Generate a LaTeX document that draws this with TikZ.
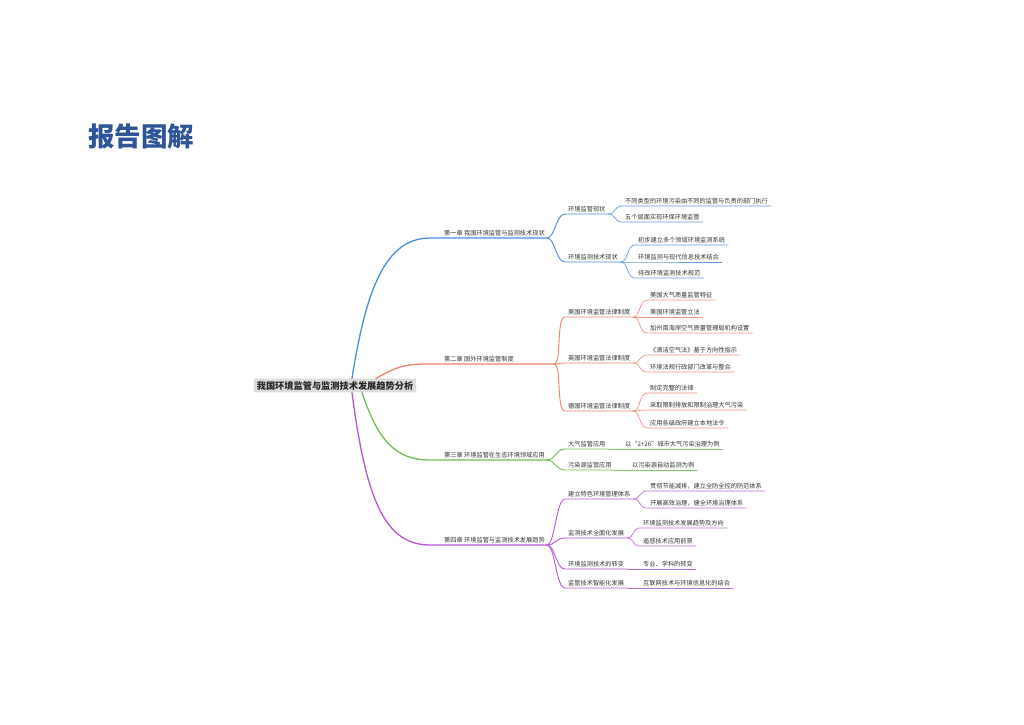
\documentclass[tikz,border=0pt]{standalone}
\usepackage{fontspec}
\setmainfont{Noto Sans CJK SC}
\usetikzlibrary{calc}
\definecolor{cblue}{HTML}{4A8FE0}
\definecolor{csalm}{HTML}{EC8270}
\definecolor{cgreen}{HTML}{6CC04F}
\definecolor{cpurp}{HTML}{B657D4}
\definecolor{ctitle}{HTML}{2E5597}
\definecolor{croot}{HTML}{DCDCDC}
\begin{document}
\begin{tikzpicture}[x=1pt,y=-1pt,
  lbl/.style={anchor=south west,inner xsep=3pt,inner ysep=1.6pt,font=\fontsize{6.2}{7}\selectfont,text=black!80},
  chap/.style={lbl,inner xsep=2pt},
  l1/.style={line width=1.3pt,line cap=round},
  l2/.style={line width=0.9pt,line cap=round},
  l3/.style={line width=0.7pt,line cap=round}]
\useasboundingbox[fill=white] (0,0) rectangle (1024,724);

\node[anchor=west,inner sep=0pt,font=\fontsize{26.5}{30}\selectfont\bfseries,text=ctitle] (title) at (88,136) {报告图解};

\node[fill=croot,rounded corners=1pt,inner xsep=3pt,inner ysep=2.5pt,font=\fontsize{9.2}{10}\selectfont\bfseries,text=black!85] (root) at (335,385.5) {我国环境监管与监测技术发展趋势分析};
\coordinate (rb) at ($(root.north)+(17,0)$);
\coordinate (rs) at ($(root.north)+(41,0)$);
\coordinate (rg) at ($(root.south)+(27,0)$);
\coordinate (rp) at ($(root.south)+(17,0)$);

% chapters
\node[chap] (ch1) at (442,238) {第一章 我国环境监管与监测技术现状};
\node[chap] (ch2) at (442,364) {第二章 国外环境监管制度};
\node[chap] (ch3) at (442,460) {第三章 环境监管在生态环境领域应用};
\node[chap] (ch4) at (442,545) {第四章 环境监管与监测技术发展趋势};
\coordinate (ch1e) at (ch1.south east);
\coordinate (ch2e) at ($(ch2.south west)+(112,0)$);
\coordinate (ch3e) at (ch3.south east);
\coordinate (ch4e) at (ch4.south east);

% chapter 1
\node[lbl] (a1) at (565,214) {环境监管现状};
\node[lbl] (a11) at (622,206) {不同类型的环境污染由不同的监管与负责的部门执行};
\node[lbl] (a12) at (622,222) {五个层面实现环保环境监管};
\node[lbl] (a2) at (565,262) {环境监测技术现状};
\node[lbl] (a21) at (635,245) {初步建立多个领域环境监测系统};
\node[lbl] (a22) at (635,262) {环境监测与现代信息技术结合};
\node[lbl] (a23) at (635,278) {待改环境监测技术规范};

% chapter 2
\node[lbl] (b1) at (565,317) {美国环境监管法律制度};
\node[lbl] (b11) at (647,300) {美国大气质量监管特征};
\node[lbl] (b12) at (647,317) {美国环境监管立法};
\node[lbl] (b13) at (647,333) {加州南海岸空气质量管理局机构设置};
\node[lbl] (b2) at (565,363) {英国环境监管法律制度};
\node[lbl] (b21) at (647,355) {《清洁空气法》基于方向性指示};
\node[lbl] (b22) at (647,372) {环境法规行政部门改革与整合};
\node[lbl] (b3) at (565,411) {德国环境监管法律制度};
\node[lbl] (b31) at (647,393) {制定完整的法律};
\node[lbl] (b32) at (647,410) {采取限制排放和限制治理大气污染};
\node[lbl] (b33) at (647,428) {应用各级政府建立本地法令};

% chapter 3
\node[lbl] (c1) at (565,449) {大气监管应用};
\node[lbl] (c11) at (622,449) {以“2+26”城市大气污染治理为例};
\node[lbl] (c2) at (565,470) {污染源监管应用};
\node[lbl] (c21) at (629,470) {以污染源自动监测为例};

% chapter 4
\node[lbl] (d1) at (565,499) {建立特色环境管理体系};
\node[lbl] (d11) at (647,491) {贯彻节能减排，建立全防全控的防范体系};
\node[lbl] (d12) at (647,508) {开展高效治理，健全环境治理体系};
\node[lbl] (d2) at (565,538) {监测技术全面化发展};
\node[lbl] (d21) at (640,528) {环境监测技术发展趋势及方向};
\node[lbl] (d22) at (640,546) {遥感技术应用前景};
\node[lbl] (d3) at (565,569) {环境监测技术的转变};
\node[lbl] (d31) at (640,569) {专业、学科的转变};
\node[lbl] (d4) at (565,588) {监管技术智能化发展};
\node[lbl] (d41) at (640,588) {互联网技术与环境信息化的结合};

% root to chapters
\draw[l1,cblue] (rb) .. controls (366,290) and (385,238) .. ($(ch1.south west)+(-12,0)$) -- (ch1e);
\draw[l1,csalm] (rs) .. controls (398,366) and (405,364) .. ($(ch2.south west)+(-12,0)$) -- (ch2e);
\draw[l1,cgreen] (rg) .. controls (378,440) and (395,460) .. ($(ch3.south west)+(-12,0)$) -- (ch3e);
\draw[l1,cpurp] (rp) .. controls (366,500) and (385,545) .. ($(ch4.south west)+(-12,0)$) -- (ch4e);

% chapter to level 2 (curves) + underlines
\foreach \p/\c/\col in {ch1e/a1/cblue,ch1e/a2/cblue,ch2e/b1/csalm,ch2e/b2/csalm,ch2e/b3/csalm,ch3e/c1/cgreen,ch3e/c2/cgreen,ch4e/d1/cpurp,ch4e/d2/cpurp,ch4e/d3/cpurp,ch4e/d4/cpurp}{
  \draw[l2,\col] (\p) .. controls +(8,0) and +(-9,0) .. (\c.south west) -- (\c.south east);
}
% level 2 to level 3
\foreach \p/\c/\col in {a1/a11/cblue,a1/a12/cblue,a2/a21/cblue,a2/a22/cblue,a2/a23/cblue,
  b1/b11/csalm,b1/b12/csalm,b1/b13/csalm,b2/b21/csalm,b2/b22/csalm,b3/b31/csalm,b3/b32/csalm,b3/b33/csalm,
  c1/c11/cgreen,c2/c21/cgreen,
  d1/d11/cpurp,d1/d12/cpurp,d2/d21/cpurp,d2/d22/cpurp,d3/d31/cpurp,d4/d41/cpurp}{
  \draw[l3,\col!85] (\p.south east) .. controls +(7,0) and +(-8,0) .. (\c.south west) -- (\c.south east);
}
\end{tikzpicture}
\end{document}
